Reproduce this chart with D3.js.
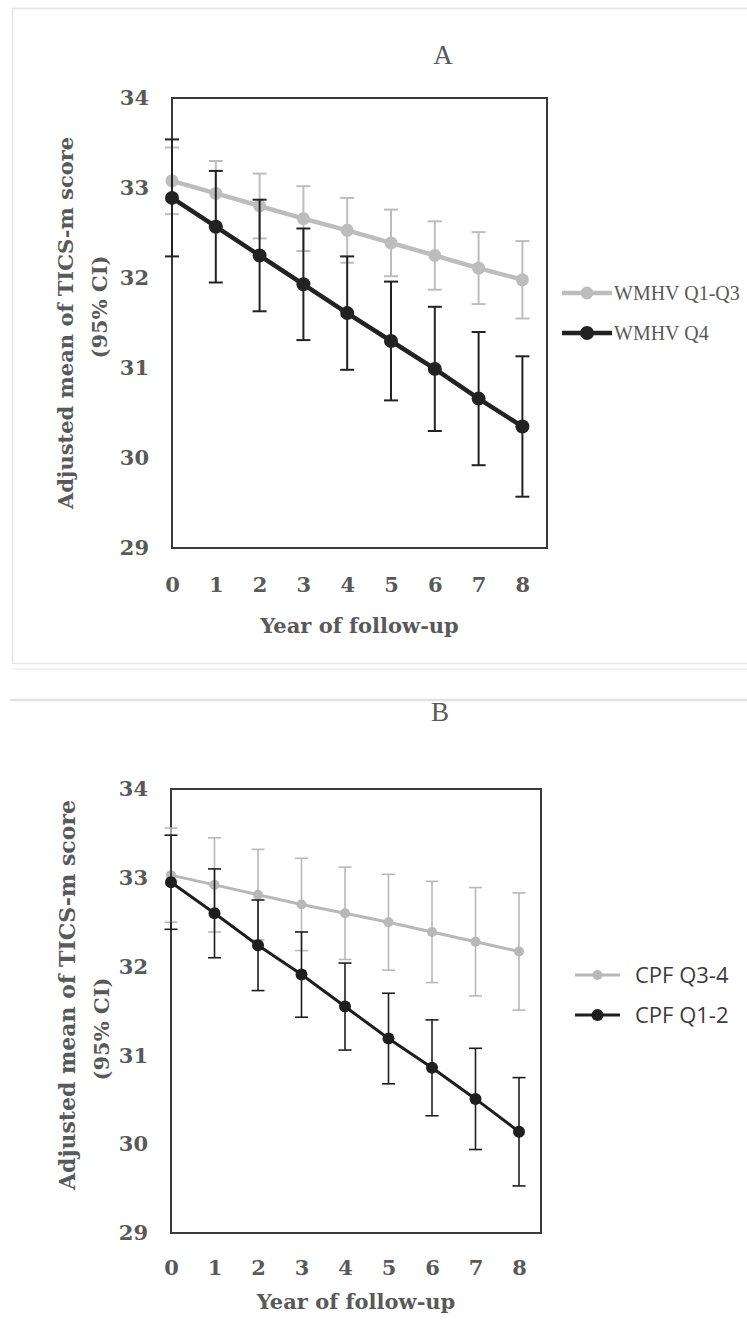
<!DOCTYPE html>
<html>
<head>
<meta charset="utf-8">
<script src="https://cdn.jsdelivr.net/npm/d3@7"></script>
<style>
    body { margin: 0; background: #fff; }
    svg { display: block; }
</style>
</head>
<body>
<div id="chart"></div>
<script>
// values: adjusted mean and 95% CI half-width per year
const years = [0, 1, 2, 3, 4, 5, 6, 7, 8];
const yTicks = [29, 30, 31, 32, 33, 34];

const wmhvLowMean = [33.08, 32.94, 32.80, 32.66, 32.53, 32.39, 32.25, 32.11, 31.98];
const wmhvLowCI   = [0.37, 0.36, 0.36, 0.36, 0.36, 0.37, 0.38, 0.40, 0.43];
const wmhvHighMean = [32.89, 32.57, 32.25, 31.93, 31.61, 31.30, 30.99, 30.66, 30.35];
const wmhvHighCI   = [0.65, 0.62, 0.62, 0.62, 0.63, 0.66, 0.69, 0.74, 0.78];

const cpfHighMean = [33.03, 32.92, 32.81, 32.70, 32.60, 32.50, 32.39, 32.28, 32.17];
const cpfHighCI   = [0.53, 0.53, 0.51, 0.52, 0.52, 0.54, 0.57, 0.61, 0.66];
const cpfLowMean = [32.95, 32.60, 32.24, 31.91, 31.55, 31.19, 30.86, 30.51, 30.14];
const cpfLowCI   = [0.53, 0.50, 0.51, 0.48, 0.49, 0.51, 0.54, 0.57, 0.61];

const width = 747, height = 1341;
const textGrey = "#595959";
const serifBold = "'DejaVu Serif', serif";

const svg = d3.select("#chart").append("svg")
    .attr("width", width)
    .attr("height", height);

// faint frames round the two panels
svg.append("rect")
    .attr("x", 12.5).attr("y", 8.5)
    .attr("width", 760).attr("height", 655)
    .attr("fill", "none")
    .attr("stroke", "#e4e4e4")
    .attr("stroke-width", 1.5);
svg.append("line")
    .attr("x1", 12).attr("x2", width).attr("y1", 669).attr("y2", 669)
    .attr("stroke", "#f0f0f0").attr("stroke-width", 1.5);
svg.append("line")
    .attr("x1", 10).attr("x2", width).attr("y1", 700).attr("y2", 700)
    .attr("stroke", "#e2e2e2").attr("stroke-width", 2.5);

function toRows(mean, ci) {
    return years.map(function (yr, i) {
        return {year: yr, mean: mean[i], lo: mean[i] - ci[i], hi: mean[i] + ci[i]};
    });
}

function drawPanel(p) {
    const g = svg.append("g");

    const x = d3.scaleLinear().domain([0, 8]).range([p.left, p.left + p.step * 8]);
    const y = d3.scaleLinear().domain([29, 34]).range([p.bottom, p.top]);

    // title letter
    g.append("text")
        .attr("x", p.titleX).attr("y", p.titleY)
        .attr("text-anchor", "middle")
        .style("font-family", "'Liberation Serif', serif")
        .style("font-size", "27px")
        .style("fill", textGrey)
        .text(p.title);

    // axes, labels only
    const yAxis = g.append("g")
        .attr("transform", "translate(" + p.left + ",0)")
        .call(d3.axisLeft(y).tickValues(yTicks).tickFormat(d3.format("d"))
            .tickSize(0).tickPadding(23));
    const xAxis = g.append("g")
        .attr("transform", "translate(0," + p.bottom + ")")
        .call(d3.axisBottom(x).tickValues(years).tickFormat(d3.format("d"))
            .tickSize(0).tickPadding(p.xPad));
    [yAxis, xAxis].forEach(function (ax) {
        ax.select(".domain").remove();
        ax.selectAll("text")
            .style("font-family", serifBold)
            .style("font-weight", "bold")
            .style("font-size", "21px")
            .style("fill", textGrey);
    });

    // plot border
    g.append("rect")
        .attr("x", p.left).attr("y", p.top)
        .attr("width", p.right - p.left).attr("height", p.bottom - p.top)
        .attr("fill", "none")
        .attr("stroke", "#3a3a3a")
        .attr("stroke-width", 2);

    // axis titles
    g.append("text")
        .attr("x", (p.left + p.right) / 2).attr("y", p.xTitleY)
        .attr("text-anchor", "middle")
        .style("font-family", serifBold)
        .style("font-weight", "bold")
        .style("font-size", "21px")
        .style("fill", textGrey)
        .text("Year of follow-up");

    p.yTitle.forEach(function (line) {
        g.append("text")
            .attr("transform", "translate(" + line.x + "," + line.y + ") rotate(-90)")
            .attr("text-anchor", "middle")
            .attr("dy", "0.35em")
            .style("font-family", serifBold)
            .style("font-weight", "bold")
            .style("font-size", line.size + "px")
            .style("fill", textGrey)
            .text(line.text);
    });

    // series: light one first, dark one over it
    p.series.forEach(function (s) {
        const rows = toRows(s.mean, s.ci);
        const sg = g.append("g");

        const bars = sg.selectAll(".err").data(rows).enter().append("g");
        bars.append("line")
            .attr("x1", function (d) { return x(d.year); })
            .attr("x2", function (d) { return x(d.year); })
            .attr("y1", function (d) { return y(d.lo); })
            .attr("y2", function (d) { return y(d.hi); });
        ["lo", "hi"].forEach(function (k) {
            bars.append("line")
                .attr("x1", function (d) { return x(d.year) - p.cap; })
                .attr("x2", function (d) { return x(d.year) + p.cap; })
                .attr("y1", function (d) { return y(d[k]); })
                .attr("y2", function (d) { return y(d[k]); });
        });
        bars.selectAll("line")
            .attr("stroke", s.color)
            .attr("stroke-width", p.errWidth);

        sg.append("path")
            .datum(rows)
            .attr("fill", "none")
            .attr("stroke", s.color)
            .attr("stroke-width", p.lineWidth)
            .attr("d", d3.line()
                .x(function (d) { return x(d.year); })
                .y(function (d) { return y(d.mean); }));

        sg.selectAll("circle").data(rows).enter().append("circle")
            .attr("cx", function (d) { return x(d.year); })
            .attr("cy", function (d) { return y(d.mean); })
            .attr("r", s.r)
            .attr("fill", s.color);

        // legend entry
        const lg = g.append("g").attr("transform", "translate(0," + s.legendY + ")");
        lg.append("line")
            .attr("x1", p.legendX).attr("x2", p.legendX + p.legendLen)
            .attr("stroke", s.color)
            .attr("stroke-width", p.lineWidth);
        lg.append("circle")
            .attr("cx", p.legendX + p.legendLen / 2)
            .attr("r", s.r)
            .attr("fill", s.color);
        lg.append("text")
            .attr("x", p.legendTextX)
            .attr("dy", "0.35em")
            .style("font-family", p.legendFont)
            .style("font-size", p.legendSize + "px")
            .style("fill", p.legendColor)
            .text(s.name);
    });
}

drawPanel({
    title: "A", titleX: 443, titleY: 64,
    left: 172, right: 547, top: 98, bottom: 548, step: 43.8,
    xPad: 29, xTitleY: 633, cap: 7,
    errWidth: 2, lineWidth: 4.5,
    yTitle: [
        {text: "Adjusted mean of TICS-m score", x: 66, y: 323, size: 21},
        {text: "(95% CI)", x: 100, y: 307, size: 21}
    ],
    legendX: 562, legendLen: 50, legendTextX: 614,
    legendFont: "'Liberation Serif', serif", legendSize: 20, legendColor: textGrey,
    series: [
        {name: "WMHV Q1-Q3", mean: wmhvLowMean, ci: wmhvLowCI, color: "#bdbdbd", r: 6.5, legendY: 293},
        {name: "WMHV Q4", mean: wmhvHighMean, ci: wmhvHighCI, color: "#222222", r: 7, legendY: 333}
    ]
});

drawPanel({
    title: "B", titleX: 440, titleY: 721,
    left: 171, right: 541, top: 789, bottom: 1233, step: 43.5,
    xPad: 27, xTitleY: 1309, cap: 6.5,
    errWidth: 1.6, lineWidth: 3,
    yTitle: [
        {text: "Adjusted mean of TICS-m score", x: 67, y: 995, size: 22},
        {text: "(95% CI)", x: 102, y: 1029, size: 21}
    ],
    legendX: 575, legendLen: 45, legendTextX: 635,
    legendFont: "'Open Sans', sans-serif", legendSize: 22, legendColor: "#3b3b3b",
    series: [
        {name: "CPF Q3-4", mean: cpfHighMean, ci: cpfHighCI, color: "#b8b8b8", r: 5, legendY: 975},
        {name: "CPF Q1-2", mean: cpfLowMean, ci: cpfLowCI, color: "#1e1e1e", r: 6, legendY: 1015}
    ]
});
</script>
</body>
</html>
